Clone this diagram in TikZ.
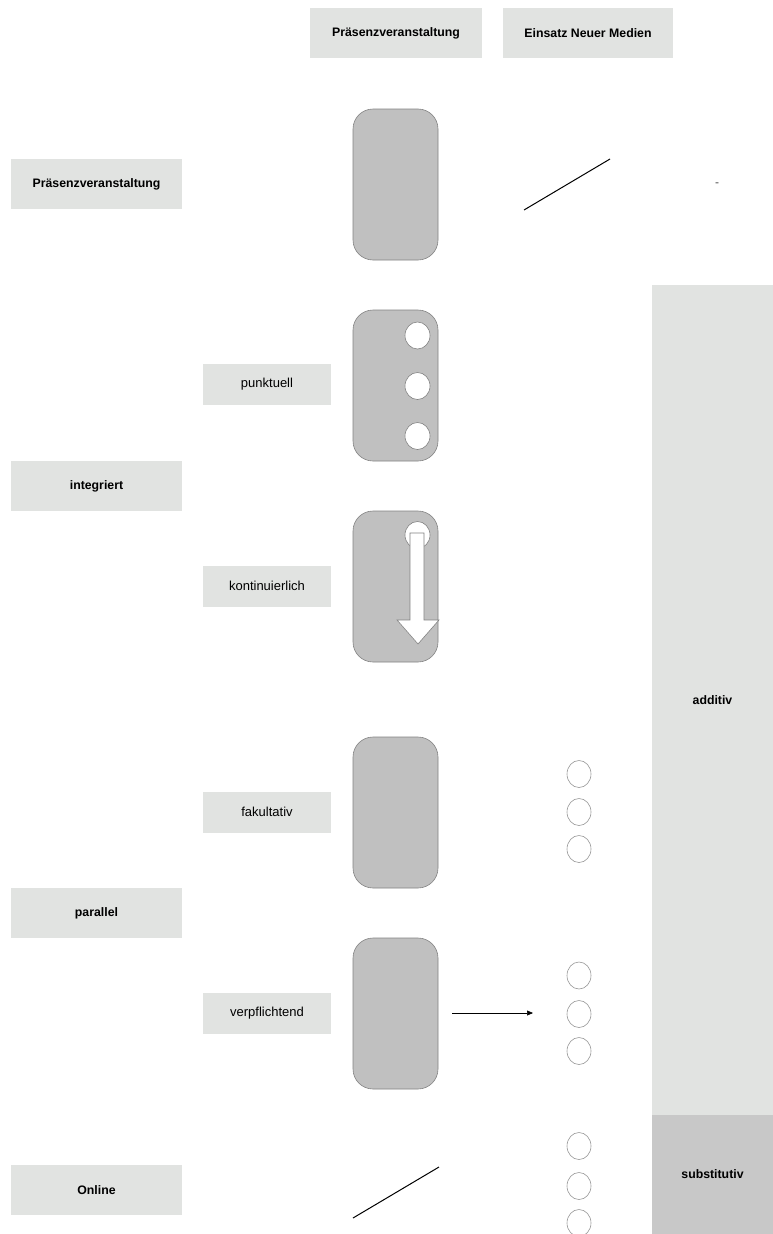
\documentclass[tikz,border=0pt]{standalone}
\usepackage{fontspec}
\setmainfont{Liberation Sans}
\usetikzlibrary{shapes.geometric,arrows.meta}
\definecolor{boxgray}{RGB}{225,227,225}
\definecolor{subgray}{RGB}{200,200,200}
\definecolor{blockgray}{RGB}{192,192,192}
\definecolor{edgegray}{RGB}{130,130,130}
\definecolor{ringgray}{RGB}{150,150,150}
\begin{document}
\begin{tikzpicture}[x=1pt,y=-1pt,
  lab/.style={fill=boxgray, draw=none, inner sep=0pt, font=\fontsize{12.3}{14}\selectfont\bfseries},
  sublab/.style={fill=boxgray, draw=none, inner sep=0pt, minimum width=128pt, minimum height=41pt, font=\fontsize{13}{15}\selectfont},
  block/.style={fill=blockgray, draw=edgegray, line width=0.6pt, rounded corners=20pt, minimum width=85pt, minimum height=151pt, inner sep=0pt},
  ring/.style={ellipse, draw=ringgray, line width=0.6pt, minimum width=24pt, minimum height=27pt, inner sep=0pt},
  hole/.style={ellipse, fill=white, draw=edgegray, line width=0.6pt, minimum width=25pt, minimum height=27pt, inner sep=0pt}]
\useasboundingbox (0,0) rectangle (773,1234);
\clip (0,0) rectangle (773,1234);
% header
\node[lab, minimum width=172pt, minimum height=50pt] (hP) at (396,33) {Präsenzveranstaltung};
\node[lab, minimum width=170pt, minimum height=50pt] (hE) at (588,33) {Einsatz Neuer Medien};
% left labels
\node[lab, minimum width=171pt, minimum height=50pt] (lP) at (96.5,184) {Präsenzveranstaltung};
\node[lab, minimum width=171pt, minimum height=50pt] (lI) at (96.5,486) {integriert};
\node[lab, minimum width=171pt, minimum height=50pt] (lPa) at (96.5,913) {parallel};
\node[lab, minimum width=171pt, minimum height=50pt] (lO) at (96.5,1190) {Online};
% sub labels
\node[sublab] (sP) at (267,384.5) {punktuell};
\node[sublab] (sK) at (267,586) {kontinuierlich};
\node[sublab] (sF) at (267,812) {fakultativ};
\node[sublab] (sV) at (267,1013) {verpflichtend};
% right column
\node[lab, minimum width=121pt, minimum height=830pt] (add) at (712.5,700) {additiv};
\node[lab, fill=subgray, minimum width=121pt, minimum height=119pt] (sub) at (712.5,1174.5) {substitutiv};
% blocks
\node[block] (b1) at (395.5,184.5) {};
\node[block] (b2) at (395.5,385.5) {};
\node[block] (b3) at (395.5,586.5) {};
\node[block] (b4) at (395.5,812.5) {};
\node[block] (b5) at (395.5,1013.5) {};
% holes in b2
\node[hole] (h1) at (417.5,335.5) {};
\node[hole] (h2) at (417.5,386) {};
\node[hole] (h3) at (417.5,436) {};
% b3 hole with arrow
\node[hole] (h4) at (417.5,535) {};
\draw[fill=white, draw=edgegray, line width=0.6pt] (410,533) -- (424,533) -- (424,620) -- (439,620) -- (418,644) -- (397,620) -- (410,620) -- cycle;
% rings
\node[ring] (r1) at (579,774) {};
\node[ring] (r2) at (579,812) {};
\node[ring] (r3) at (579,849) {};
\node[ring] (r4) at (579,975.5) {};
\node[ring] (r5) at (579,1014) {};
\node[ring] (r6) at (579,1051) {};
\node[ring] (r7) at (579,1146) {};
\node[ring] (r8) at (579,1186) {};
\node[ring] (r9) at (579,1223) {};
% diagonal lines
\coordinate (d1a) at (524,210);
\coordinate (d1b) at (610,159);
\coordinate (d2a) at (353,1218);
\coordinate (d2b) at (439,1167);
\draw[line width=1pt] (d1a) -- (d1b);
\draw[line width=1pt] (d2a) -- (d2b);
% arrow
\coordinate (aS) at (452,1013);
\coordinate (aE) at (533,1013);
\draw[line width=0.6pt, -{Triangle[length=6pt,width=5pt]}] (aS) -- (aE);
% dash
\node[font=\fontsize{12}{14}\selectfont, text=black!70, inner sep=0pt] (dash) at (717,185) {-};
\end{tikzpicture}
\end{document}
